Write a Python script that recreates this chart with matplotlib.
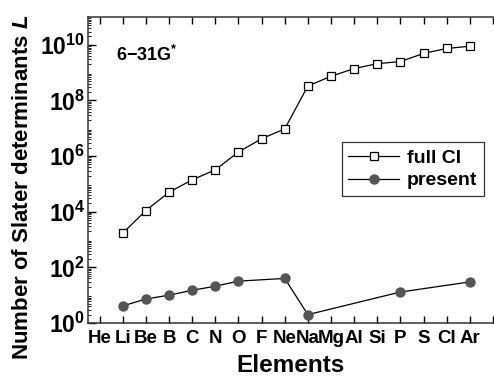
import numpy as np
import matplotlib
matplotlib.use('Agg')
import matplotlib.pyplot as plt
from matplotlib.ticker import FixedLocator, LogLocator, NullFormatter

plt.rcParams['font.family'] = 'Liberation Sans'
plt.rcParams['font.weight'] = 'bold'
plt.rcParams['axes.labelweight'] = 'bold'
plt.rcParams['mathtext.fontset'] = 'custom'
plt.rcParams['mathtext.rm'] = 'Liberation Sans:bold'
plt.rcParams['mathtext.bf'] = 'Liberation Sans:bold'
plt.rcParams['mathtext.it'] = 'Liberation Sans:bold:italic'

elements = ['He', 'Li', 'Be', 'B', 'C', 'N', 'O', 'F', 'Ne',
            'Na', 'Mg', 'Al', 'Si', 'P', 'S', 'Cl', 'Ar']

# full CI: Li .. Ar
full_ci_elems = ['Li', 'Be', 'B', 'C', 'N', 'O', 'F', 'Ne',
                 'Na', 'Mg', 'Al', 'Si', 'P', 'S', 'Cl', 'Ar']
full_ci = [1.7e3, 1.1e4, 5.0e4, 1.4e5, 3.2e5, 1.4e6, 4.2e6, 9.5e6,
           3.3e8, 7.4e8, 1.4e9, 2.1e9, 2.5e9, 4.9e9, 7.4e9, 8.9e9]

present_elems = ['Li', 'Be', 'B', 'C', 'N', 'O', 'Ne', 'Na', 'P', 'Ar']
present = [4.1, 7.3, 10, 15, 21, 32, 40, 2.0, 13, 30]

xpos = {e: i for i, e in enumerate(elements)}

fig = plt.figure(figsize=(4.94, 3.79), dpi=100)
ax = fig.add_axes([88/494, 56/379, 405/494, 306/379])

ax.plot([xpos[e] for e in full_ci_elems], full_ci, color='black', lw=0.9,
        marker='s', ms=5.5, mfc='white', mec='black', mew=0.9, label='full CI')
ax.plot([xpos[e] for e in present_elems], present, color='black', lw=0.9,
        marker='o', ms=6.5, mfc='#555555', mec='#555555', label='present')

ax.set_yscale('log')
ax.set_ylim(1, 1e11)
ax.set_xlim(-0.5, len(elements))

ax.xaxis.set_major_locator(FixedLocator(np.arange(len(elements) + 1)))
ax.set_xticklabels(elements + [''], fontsize=13.5)
ax.yaxis.set_major_locator(FixedLocator([1e0, 1e2, 1e4, 1e6, 1e8, 1e10]))
ax.set_yticklabels([r'$10^{%d}$' % p for p in [0, 2, 4, 6, 8, 10]], fontsize=16.5)
ax.yaxis.set_minor_locator(LogLocator(base=10, subs=np.arange(2, 10), numticks=20))
ax.yaxis.set_minor_formatter(NullFormatter())

ax.tick_params(axis='x', direction='in', top=True, length=5, width=1, pad=5)
ax.tick_params(axis='y', which='major', direction='in', length=6, width=1, pad=2)
ax.tick_params(axis='y', which='minor', direction='in', length=2.5, width=0.6)
ax.spines['right'].set_visible(False)
for s in ['left', 'top', 'bottom']:
    ax.spines[s].set_linewidth(1.1)
    ax.spines[s].set_color('#333333')

ax.set_xlabel('Elements', fontsize=17.5, labelpad=5)
ax.set_ylabel(r'Number of Slater determinants $\mathit{L}$', fontsize=16)
ax.yaxis.set_label_coords(-0.137, 0.445)

ax.text(0.069, 0.855, r'6$-$31G$^{*}$', transform=ax.transAxes, fontsize=13)

leg = ax.legend(loc='upper left', bbox_to_anchor=(0.626, 0.59), borderaxespad=0,
                fontsize=14, frameon=True, fancybox=False, handlelength=2.6,
                handletextpad=0.4, borderpad=0.35, labelspacing=0.25)
leg.get_frame().set_edgecolor('black')
leg.get_frame().set_linewidth(0.9)

fig.savefig('out.png', dpi=100)
